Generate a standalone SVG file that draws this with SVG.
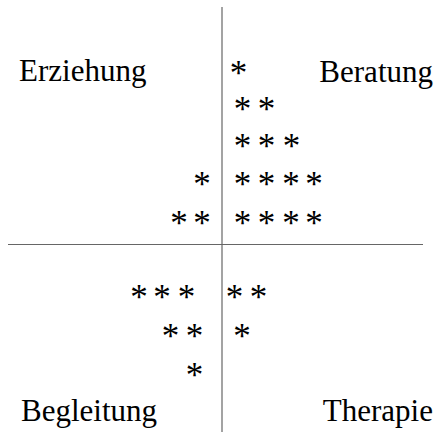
<svg xmlns="http://www.w3.org/2000/svg" width="437" height="432" viewBox="0 0 437 432">
<style>
.lbl{font-family:"Liberation Serif","Times New Roman",serif;font-size:31px;fill:#000}
.st{font-family:"Liberation Serif","Times New Roman",serif;font-size:35px;fill:#000;text-anchor:middle}
.ax{stroke:#666;stroke-width:1.2;fill:none}
</style>
<rect width="437" height="432" fill="#fff"/>
<g id="axes">
<line class="ax" x1="222" y1="7" x2="222" y2="432"/>
<line class="ax" x1="8" y1="244.5" x2="423" y2="244.5"/>
</g>
<g id="label-erziehung"><text class="lbl" x="19" y="81">Erziehung</text></g>
<g id="label-beratung"><text class="lbl" x="433" y="82" text-anchor="end">Beratung</text></g>
<g id="label-begleitung"><text class="lbl" x="21" y="421">Begleitung</text></g>
<g id="label-therapie"><text class="lbl" x="433" y="421" text-anchor="end">Therapie</text></g>
<g id="stars-beratung">
<text class="st" x="238.5" y="84.5">*</text>
<text class="st" x="242.5" y="121">*</text><text class="st" x="266.5" y="121">*</text>
<text class="st" x="242.5" y="158">*</text><text class="st" x="266.5" y="158">*</text><text class="st" x="291.5" y="158">*</text>
<text class="st" x="242.5" y="196">*</text><text class="st" x="266.5" y="196">*</text><text class="st" x="291" y="196">*</text><text class="st" x="314" y="196">*</text>
<text class="st" x="242.5" y="234.5">*</text><text class="st" x="266.5" y="234.5">*</text><text class="st" x="291" y="234.5">*</text><text class="st" x="314" y="234.5">*</text>
</g>
<g id="stars-erziehung">
<text class="st" x="202" y="196">*</text>
<text class="st" x="179" y="234.5">*</text><text class="st" x="202" y="234.5">*</text>
</g>
<g id="stars-begleitung">
<text class="st" x="139" y="309">*</text><text class="st" x="162" y="309">*</text><text class="st" x="186.5" y="309">*</text>
<text class="st" x="170.5" y="348">*</text><text class="st" x="194.5" y="348">*</text>
<text class="st" x="194.5" y="387">*</text>
</g>
<g id="stars-therapie">
<text class="st" x="234.5" y="309">*</text><text class="st" x="258.5" y="309">*</text>
<text class="st" x="242" y="348">*</text>
</g>
</svg>
